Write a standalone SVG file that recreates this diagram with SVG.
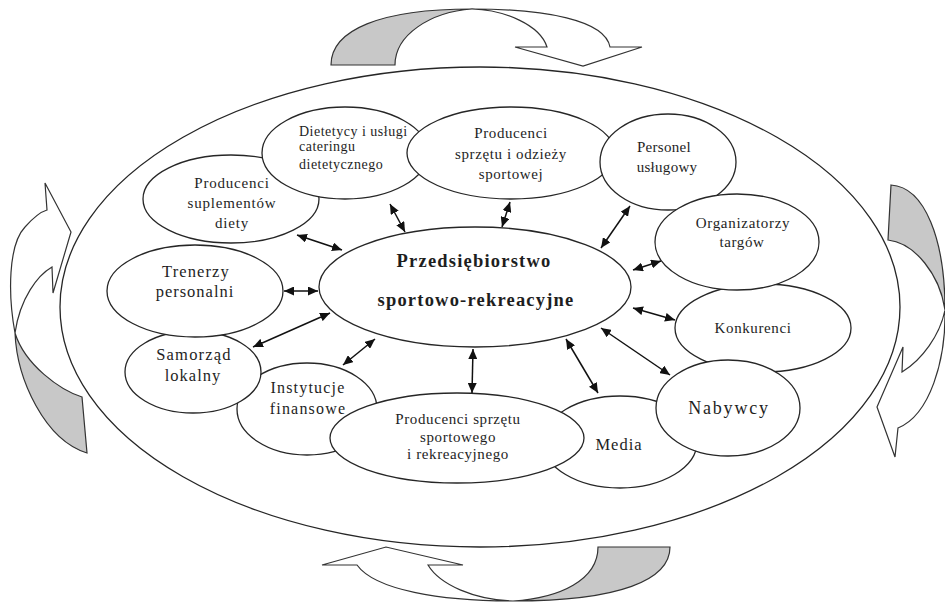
<svg xmlns="http://www.w3.org/2000/svg" width="945" height="603" viewBox="0 0 945 603">
<defs>
<style>
.n{fill:#fff;stroke:#262626;stroke-width:1.3}
.t{font-family:"Liberation Serif","Times New Roman",serif;fill:#1e1e1e;text-anchor:middle}
.b{font-weight:bold}
.c{stroke:#111;stroke-width:1.5;fill:none;marker-start:url(#ah);marker-end:url(#ah)}
.ra{fill:#fff;stroke:#333;stroke-width:1.2;stroke-linejoin:miter}
.rg{fill:#c8c8c8;stroke:#333;stroke-width:1.2}
</style>
<marker id="ah" markerUnits="userSpaceOnUse" markerWidth="11" markerHeight="9" refX="10" refY="4.5" orient="auto-start-reverse">
<path d="M0,0 L10,4.5 L0,9 Z" fill="#111"/>
</marker>
</defs>
<rect width="945" height="603" fill="#fff"/>

<g id="cycle-arrows">
<path class="rg" d="M331,65 C331,30 380,9 472,9 C430,12 395,35 395,65 Z"/>
<path class="ra" d="M472,9 C545,9 605,20 610,47 L642,47 L583,66 L515,47 L547,47 C540,25 505,10 472,9 Z"/>
<path class="rg" d="M891,185 C925,187 945,240 945,310 C940,275 915,243 888,240 Z"/>
<path class="ra" d="M945,310 C946,360 930,415 898,428 L895,457 L877,407 L903,347 L902,372 C922,360 940,335 945,310 Z"/>
<path class="rg" d="M598,547 L670,547 C670,580 620,601 513,601 C560,598 598,580 598,547 Z"/>
<path class="ra" d="M513,601 C440,601 375,590 357,565 L322,565 L386,547 L463,565 L428,565 C440,585 475,600 513,601 Z"/>
<path class="rg" d="M15,333 C17,380 45,440 87,453 L82,397 C60,390 25,365 15,333 Z"/>
<path class="ra" d="M15,333 C8,295 8,245 25,227 C33,218 40,212 47,210 L45,183 L71,232 L53,293 L52,267 C38,275 20,298 15,333 Z"/>
</g>

<g id="environment">
<ellipse class="n" cx="480" cy="307" rx="420" ry="240"/>
</g>

<g id="suplementy">
<ellipse class="n" cx="231" cy="199" rx="88" ry="44"/>
<text class="t" font-size="15" letter-spacing="0.8" x="232" y="188">Producenci</text>
<text class="t" font-size="15" letter-spacing="0.8" x="232" y="208">suplementów</text>
<text class="t" font-size="15" letter-spacing="0.8" x="232" y="228">diety</text>
</g>

<g id="dietetycy">
<ellipse class="n" cx="345" cy="153" rx="83" ry="46"/>
<text class="t" font-size="14" letter-spacing="0.5" x="299" y="136" style="text-anchor:start">Dietetycy i usługi</text>
<text class="t" font-size="14" letter-spacing="0.5" x="299" y="151" style="text-anchor:start">cateringu</text>
<text class="t" font-size="14" letter-spacing="0.5" x="299" y="169" style="text-anchor:start">dietetycznego</text>
</g>

<g id="producenci-odziezy">
<ellipse class="n" cx="511" cy="153" rx="104" ry="46"/>
<text class="t" font-size="15" letter-spacing="0.6" x="511" y="138">Producenci</text>
<text class="t" font-size="15" letter-spacing="0.6" x="511" y="159">sprzętu i odzieży</text>
<text class="t" font-size="15" letter-spacing="0.6" x="511" y="179">sportowej</text>
</g>

<g id="personel">
<ellipse class="n" cx="668" cy="162" rx="68" ry="48"/>
<text class="t" font-size="15" letter-spacing="0.3" x="664" y="152">Personel</text>
<text class="t" font-size="15" letter-spacing="0.3" x="667" y="172">usługowy</text>
</g>

<g id="konkurenci">
<ellipse class="n" cx="763" cy="328" rx="88" ry="44"/>
<text class="t" font-size="15" letter-spacing="0.6" x="753" y="333">Konkurenci</text>
</g>

<g id="organizatorzy">
<ellipse class="n" cx="737" cy="242" rx="82" ry="48"/>
<text class="t" font-size="15" letter-spacing="0.7" x="743" y="228">Organizatorzy</text>
<text class="t" font-size="15" letter-spacing="0.6" x="742" y="247">targów</text>
</g>

<g id="media">
<ellipse class="n" cx="620" cy="442" rx="77" ry="46"/>
<text class="t" font-size="16.5" letter-spacing="1" x="619" y="450">Media</text>
</g>

<g id="nabywcy">
<ellipse class="n" cx="728" cy="408" rx="72" ry="48"/>
<text class="t" font-size="18" letter-spacing="1.8" x="729" y="414">Nabywcy</text>
</g>

<g id="instytucje">
<ellipse class="n" cx="307" cy="409" rx="70" ry="46"/>
<text class="t" font-size="16" letter-spacing="1.2" x="308" y="393">Instytucje</text>
<text class="t" font-size="16" letter-spacing="1.2" x="308" y="414">finansowe</text>
</g>

<g id="producenci-sprzetu">
<ellipse class="n" cx="457" cy="438" rx="127" ry="45"/>
<text class="t" font-size="15" letter-spacing="0.6" x="458" y="424">Producenci sprzętu</text>
<text class="t" font-size="15" letter-spacing="0.6" x="458" y="442">sportowego</text>
<text class="t" font-size="15" letter-spacing="0.6" x="458" y="459">i rekreacyjnego</text>
</g>

<g id="samorzad">
<ellipse class="n" cx="193" cy="372" rx="68" ry="41"/>
<text class="t" font-size="16.5" letter-spacing="1.2" x="194" y="360">Samorząd</text>
<text class="t" font-size="16.5" letter-spacing="1" x="193" y="381">lokalny</text>
</g>

<g id="trenerzy">
<ellipse class="n" cx="195" cy="291" rx="88" ry="46"/>
<text class="t" font-size="16.5" letter-spacing="1.1" x="196" y="277">Trenerzy</text>
<text class="t" font-size="16.5" letter-spacing="1" x="195" y="297">personalni</text>
</g>

<g id="przedsiebiorstwo">
<ellipse class="n" cx="475" cy="287" rx="156" ry="60"/>
<text class="t b" font-size="18.5" letter-spacing="1.2" x="474" y="267">Przedsiębiorstwo</text>
<text class="t b" font-size="18.5" letter-spacing="1.2" x="476" y="306">sportowo-rekreacyjne</text>
</g>

<g id="connectors">
<line class="c" x1="390" y1="204" x2="405" y2="232"/>
<line class="c" x1="297" y1="235" x2="342" y2="250"/>
<line class="c" x1="510" y1="202" x2="502" y2="227"/>
<line class="c" x1="630" y1="206" x2="601" y2="248"/>
<line class="c" x1="661" y1="261" x2="633" y2="270"/>
<line class="c" x1="633" y1="308" x2="675" y2="320"/>
<line class="c" x1="601" y1="328" x2="670" y2="375"/>
<line class="c" x1="566" y1="339" x2="598" y2="393"/>
<line class="c" x1="473" y1="349" x2="472" y2="393"/>
<line class="c" x1="375" y1="339" x2="343" y2="365"/>
<line class="c" x1="330" y1="313" x2="253" y2="347"/>
<line class="c" x1="284" y1="291" x2="318" y2="291"/>
</g>
</svg>
